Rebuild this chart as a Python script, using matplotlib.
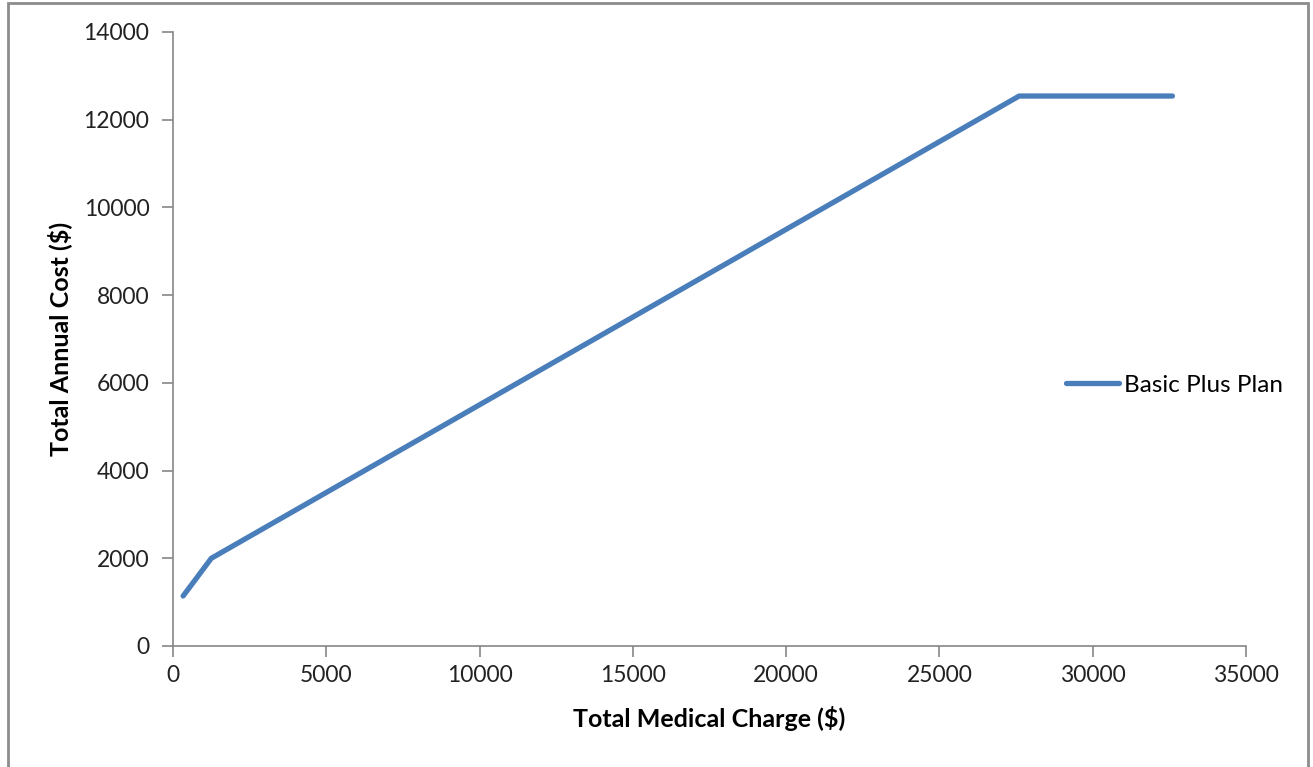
import matplotlib
matplotlib.use("Agg")
from matplotlib import pyplot as plt
from matplotlib.patches import Rectangle

# data
charge = [330, 1250, 27600, 32600]
cost = [1140, 2000, 12540, 12540]
series_name = "Basic Plus Plan"

x_ticks = [0, 5000, 10000, 15000, 20000, 25000, 30000, 35000]
y_ticks = [0, 2000, 4000, 6000, 8000, 10000, 12000, 14000]

plt.rcParams['font.family'] = ['Lato', 'DejaVu Sans']

fig = plt.figure(figsize=(13.13, 7.67), dpi=100)
ax = fig.add_axes([173 / 1313, 1 - 646 / 767, (1246 - 173) / 1313, (646 - 32) / 767])

# outer chart frame
fig.patches.append(Rectangle((8 / 1313, -0.01), (1308 - 8) / 1313, 1 - 3 / 767 + 0.01,
                             transform=fig.transFigure, fill=False,
                             edgecolor='#8c8c8c', linewidth=2))

ax.plot(charge, cost, color='#4a7ebb', linewidth=3.8, solid_capstyle='round',
        solid_joinstyle='round', label=series_name)

ax.set_xlim(0, 35000)
ax.set_ylim(0, 14000)
ax.set_xticks(x_ticks)
ax.set_yticks(y_ticks)
ax.tick_params(axis='both', direction='out', length=8, width=1.2, color='#868686',
               labelsize=16.5, labelcolor='#222222')
ax.tick_params(axis='y', pad=9)
ax.tick_params(axis='x', pad=6)

for side in ['top', 'right']:
    ax.spines[side].set_visible(False)
for side in ['left', 'bottom']:
    ax.spines[side].set_color('#868686')
    ax.spines[side].set_linewidth(1.2)

ax.set_xlabel("Total Medical Charge ($)", fontsize=18, fontweight='bold', labelpad=14)
ax.set_ylabel("Total Annual Cost ($)", fontsize=18, fontweight='bold', labelpad=8)

leg = ax.legend(loc='center left', bbox_to_anchor=(0.832, 0.425), frameon=False,
                fontsize=17.5, handlelength=2.2, handletextpad=0.2,
                borderpad=0, borderaxespad=0)

fig.savefig("out.png", dpi=100)
plt.close(fig)
